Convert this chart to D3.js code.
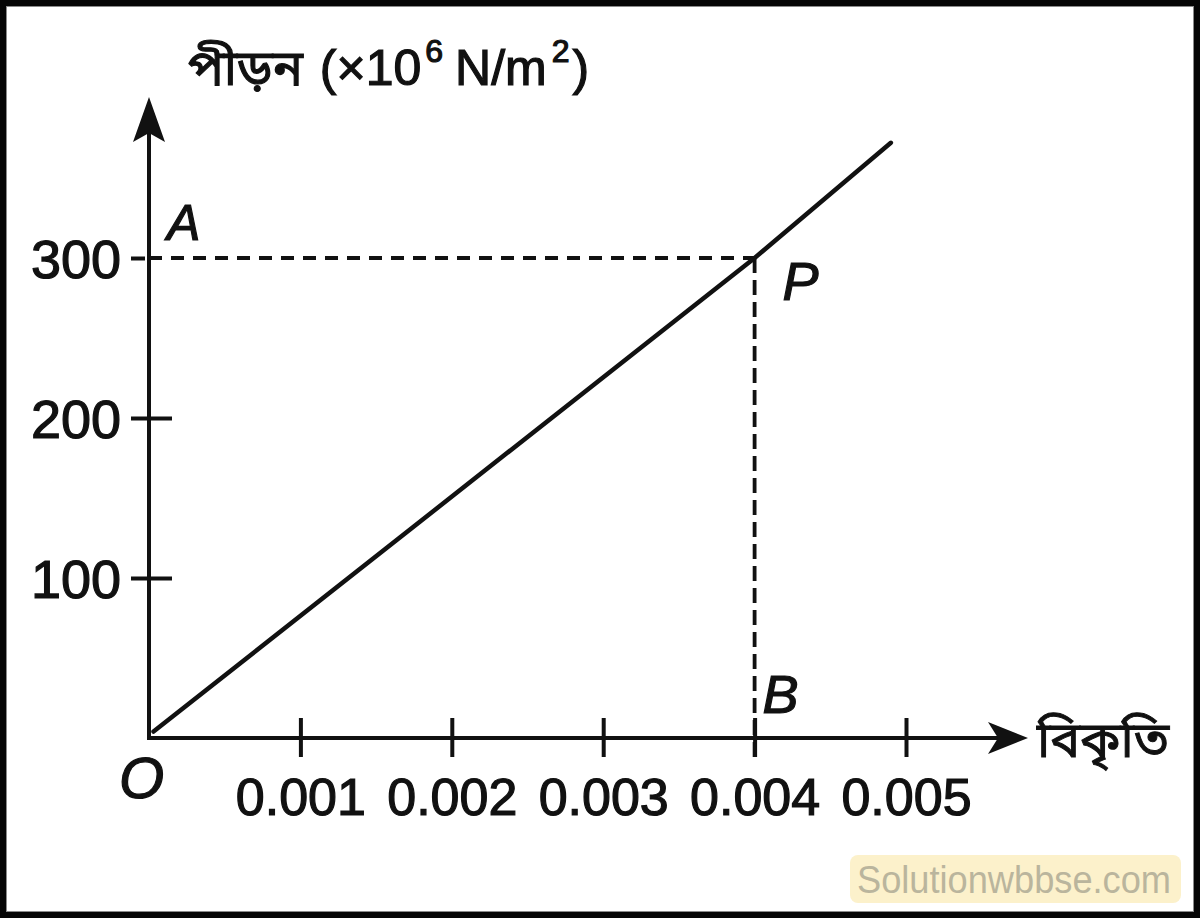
<!DOCTYPE html>
<html>
<head>
<meta charset="utf-8">
<script src="https://cdn.jsdelivr.net/npm/d3@7"></script>
<style>
  html, body { margin: 0; padding: 0; background: #fff; }
  svg { display: block; }
  text { font-family: "Liberation Sans", Arial, Helvetica, sans-serif; }
  .bn { font-family: "Noto Sans Bengali", "Lohit Bengali", "Noto Serif Bengali", "Noto Sans", sans-serif; }
</style>
</head>
<body>
<svg id="chart" width="1200" height="918"></svg>
<script>
// ---- data ----
const xTicks = [0.001, 0.002, 0.003, 0.004, 0.005];
const xTickLabels = ["0.001", "0.002", "0.003", "0.004", "0.005"];
const yTicks = [100, 200, 300];
const yTickLabels = ["100", "200", "300"];
const strain = [0.00003, 0.004, 0.0049];     // বিকৃতি
const stress = [4, 300, 372];                // পীড়ন (×10^6 N/m^2)
const pointP = { x: 0.004, y: 300 };
const yTitleBn = "পীড়ন";
const xTitle = "বিকৃতি";
const watermark = "Solutionwbbse.com";

// ---- layout ----
const W = 1200, H = 918;
const svg = d3.select("#chart");
const x = d3.scaleLinear().domain([0, 0.005]).range([149, 906]);
const y = d3.scaleLinear().domain([0, 300]).range([738, 258]);
const x0 = x(0), y0 = y(0);
const xEnd = 1028, yEnd = 97;
const ink = "#111";
const latin = "Liberation Sans, Arial, sans-serif";

// frame
svg.append("rect").attr("x", 0).attr("y", 0).attr("width", W).attr("height", H).attr("fill", "#fff");
svg.append("rect").attr("x", 3).attr("y", 3).attr("width", W - 6).attr("height", H - 6)
  .attr("fill", "none").attr("stroke", "#050505").attr("stroke-width", 6);
svg.append("rect").attr("x", 6.5).attr("y", 6.5).attr("width", W - 13).attr("height", H - 13)
  .attr("fill", "none").attr("stroke", "#8a8a8a").attr("stroke-width", 1);

// dashed guides
svg.append("line")
  .attr("x1", x0).attr("x2", x(pointP.x)).attr("y1", y(pointP.y)).attr("y2", y(pointP.y))
  .attr("stroke", ink).attr("stroke-width", 3.8).attr("stroke-dasharray", "13,9");
svg.append("line")
  .attr("x1", x(pointP.x)).attr("x2", x(pointP.x)).attr("y1", y(pointP.y)).attr("y2", y0 + 19)
  .attr("stroke", ink).attr("stroke-width", 3.8).attr("stroke-dasharray", "15,7");

// axes lines
svg.append("line").attr("x1", x0).attr("x2", xEnd - 20).attr("y1", y0).attr("y2", y0)
  .attr("stroke", ink).attr("stroke-width", 4);
svg.append("line").attr("x1", x0).attr("x2", x0).attr("y1", y0 + 2).attr("y2", yEnd + 20)
  .attr("stroke", ink).attr("stroke-width", 4);
// arrowheads
svg.append("path")
  .attr("d", `M${xEnd},${y0} L${xEnd - 40},${y0 - 16} L${xEnd - 30},${y0} L${xEnd - 40},${y0 + 16} Z`)
  .attr("fill", ink);
svg.append("path")
  .attr("d", `M${x0},${yEnd} L${x0 - 16},${yEnd + 45} L${x0},${yEnd + 36} L${x0 + 16},${yEnd + 45} Z`)
  .attr("fill", ink);

// x axis ticks
const xAxis = d3.axisBottom(x).tickValues(xTicks).tickFormat((d, i) => xTickLabels[i]).tickSize(0);
const gx = svg.append("g").attr("transform", `translate(0,${y0})`).call(xAxis);
gx.select(".domain").remove();
gx.selectAll(".tick line").attr("y1", -20).attr("y2", 19).attr("stroke", ink).attr("stroke-width", 4);
gx.selectAll(".tick text").attr("font-size", 52).attr("dy", 0).attr("y", 77)
  .attr("font-family", latin).attr("fill", ink).attr("stroke", ink).attr("stroke-width", 1.2);

// y axis ticks
const yAxis = d3.axisLeft(y).tickValues(yTicks).tickFormat((d, i) => yTickLabels[i]).tickSize(0);
const gy = svg.append("g").attr("transform", `translate(${x0},0)`).call(yAxis);
gy.select(".domain").remove();
gy.selectAll(".tick line").attr("x1", -18).attr("x2", d => d === 300 ? -4 : 23)
  .attr("stroke", ink).attr("stroke-width", 4);
gy.selectAll(".tick text").attr("font-size", 54).attr("x", -28).attr("dy", "0.36em")
  .attr("font-family", latin).attr("fill", ink).attr("stroke", ink).attr("stroke-width", 1.2);

// stress-strain line
const pts = strain.map((s, i) => [s, stress[i]]);
svg.append("path").datum(pts)
  .attr("d", d3.line().x(d => x(d[0])).y(d => y(d[1])))
  .attr("fill", "none").attr("stroke", ink).attr("stroke-width", 4.5).attr("stroke-linecap", "round");

// point labels
const lab = (t, px, py, fs) => svg.append("text").text(t).attr("x", px).attr("y", py)
  .attr("font-size", fs).attr("font-style", "italic").attr("font-family", latin)
  .attr("fill", ink).attr("stroke", ink).attr("stroke-width", 1.2);
lab("A", x0 + 18, y(pointP.y) - 18, 50);
lab("P", x(pointP.x) + 28, y(pointP.y) + 42, 54);
lab("B", x(pointP.x) + 8, y0 - 25, 54);
lab("O", x0 - 30, y0 + 60, 58);

// axis titles
const t = svg.append("text").attr("x", 188).attr("y", 85).attr("font-size", 50)
  .attr("fill", ink).attr("stroke", ink).attr("stroke-width", 1.2);
t.append("tspan").text(yTitleBn + " ").attr("class", "bn");
t.append("tspan").text("(×10").attr("font-family", latin).attr("dx", 4);
t.append("tspan").text("6").attr("font-size", 32).attr("dy", -23).attr("dx", 4).attr("font-family", latin);
t.append("tspan").text("N/m").attr("font-size", 50).attr("dy", 23).attr("dx", 12).attr("font-family", latin);
t.append("tspan").text("2").attr("font-size", 32).attr("dy", -23).attr("dx", 5).attr("font-family", latin);
t.append("tspan").text(")").attr("font-size", 50).attr("dy", 23).attr("dx", 3).attr("font-family", latin);

svg.append("text").text(xTitle).attr("class", "bn").attr("x", 1037).attr("y", 757).attr("font-size", 50)
  .attr("fill", ink).attr("stroke", ink).attr("stroke-width", 1);

// watermark
svg.append("rect").attr("x", 850).attr("y", 855).attr("width", 331).attr("height", 48).attr("rx", 8)
  .attr("fill", "#fcf1cb");
svg.append("text").text(watermark).attr("x", 857).attr("y", 893).attr("font-size", 38)
  .attr("font-family", "Open Sans, sans-serif").attr("font-weight", 400)
  .attr("textLength", 314).attr("lengthAdjust", "spacingAndGlyphs").attr("fill", "#bab59d");
</script>
</body>
</html>
